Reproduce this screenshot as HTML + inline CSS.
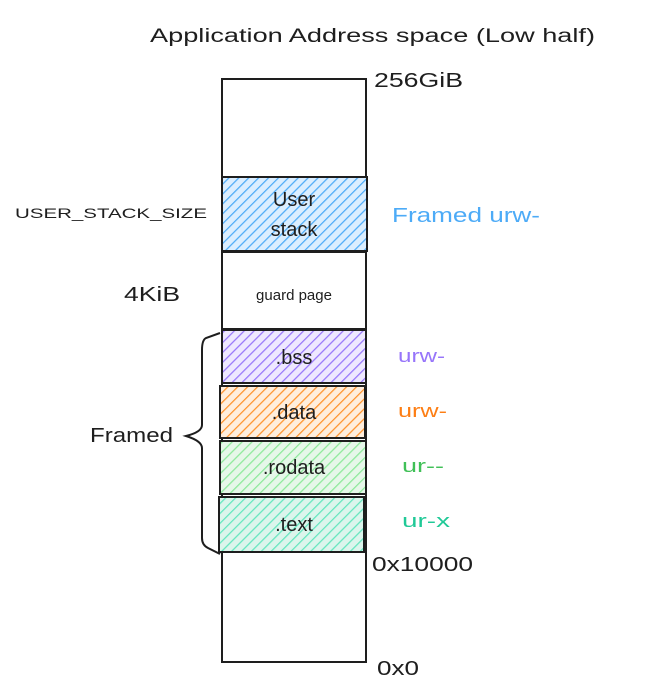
<!DOCTYPE html>
<html><head><style>body{margin:0;background:#fff}svg{display:block}text{font-family:"Liberation Sans",sans-serif}</style></head><body>
<svg width="646" height="692" viewBox="0 0 646 692" xmlns="http://www.w3.org/2000/svg">
<defs>
<pattern id="hb" width="7" height="7" patternUnits="userSpaceOnUse" patternTransform="rotate(45)"><rect width="7" height="7" fill="#dbeeff"/><line x1="0" y1="0" x2="0" y2="7" stroke="#4dabf7" stroke-width="2.5"/></pattern>
<pattern id="hp" width="7" height="7" patternUnits="userSpaceOnUse" patternTransform="rotate(45)"><rect width="7" height="7" fill="#eee8ff"/><line x1="0" y1="0" x2="0" y2="7" stroke="#9775fa" stroke-width="2.5"/></pattern>
<pattern id="ho" width="7" height="7" patternUnits="userSpaceOnUse" patternTransform="rotate(45)"><rect width="7" height="7" fill="#ffeedd"/><line x1="0" y1="0" x2="0" y2="7" stroke="#ff922b" stroke-width="2.5"/></pattern>
<pattern id="hg" width="7" height="7" patternUnits="userSpaceOnUse" patternTransform="rotate(45)"><rect width="7" height="7" fill="#e6f7e9"/><line x1="0" y1="0" x2="0" y2="7" stroke="#8ce99a" stroke-width="2.5"/></pattern>
<pattern id="ht" width="7" height="7" patternUnits="userSpaceOnUse" patternTransform="rotate(45)"><rect width="7" height="7" fill="#dcf5ec"/><line x1="0" y1="0" x2="0" y2="7" stroke="#63e6be" stroke-width="2.5"/></pattern>
</defs>
<text x="150" y="42" font-size="19" fill="#1e1e1e" textLength="445" lengthAdjust="spacingAndGlyphs">Application Address space (Low half)</text>
<rect x="222" y="79" width="144" height="583" fill="#fff" stroke="#1e1e1e" stroke-width="2"/>
<rect x="222" y="177" width="145" height="74" fill="url(#hb)" stroke="#1e1e1e" stroke-width="2"/>
<rect x="222" y="252" width="144" height="77" fill="#fff" stroke="#1e1e1e" stroke-width="2"/>
<rect x="222" y="330" width="144" height="53" fill="url(#hp)" stroke="#1e1e1e" stroke-width="2"/>
<rect x="220" y="386" width="145" height="52" fill="url(#ho)" stroke="#1e1e1e" stroke-width="2"/>
<rect x="220" y="441" width="146" height="53" fill="url(#hg)" stroke="#1e1e1e" stroke-width="2"/>
<rect x="219" y="497" width="145" height="55" fill="url(#ht)" stroke="#1e1e1e" stroke-width="2"/>
<g fill="#1e1e1e" font-size="20" text-anchor="middle">
<text x="294" y="206">User</text><text x="294" y="236">stack</text>
<text x="294" y="300" font-size="15">guard page</text>
<text x="294" y="364">.bss</text>
<text x="294" y="419">.data</text>
<text x="294" y="474">.rodata</text>
<text x="294" y="531">.text</text>
</g>
<g fill="#1e1e1e" font-size="20" lengthAdjust="spacingAndGlyphs">
<text x="374" y="87" textLength="89" lengthAdjust="spacingAndGlyphs">256GiB</text>
<text x="372" y="571" textLength="101" lengthAdjust="spacingAndGlyphs">0x10000</text>
<text x="377" y="675" textLength="42" lengthAdjust="spacingAndGlyphs">0x0</text>
<text x="124" y="301" textLength="56" lengthAdjust="spacingAndGlyphs">4KiB</text>
<text x="90" y="442" textLength="83" lengthAdjust="spacingAndGlyphs">Framed</text>
<text x="15" y="218" font-size="14" textLength="192" lengthAdjust="spacingAndGlyphs">USER_STACK_SIZE</text>
</g>
<text x="392" y="222" font-size="20" fill="#4dabf7" textLength="148" lengthAdjust="spacingAndGlyphs">Framed urw-</text>
<g font-size="18"><text x="398" y="362" fill="#9775fa" textLength="47" lengthAdjust="spacingAndGlyphs">urw-</text>
<text x="398" y="417" fill="#fd7e14" textLength="49" lengthAdjust="spacingAndGlyphs">urw-</text>
<text x="402" y="472" fill="#40c057" textLength="42" lengthAdjust="spacingAndGlyphs">ur--</text>
<text x="402" y="527" fill="#20c997" textLength="48" lengthAdjust="spacingAndGlyphs">ur-x</text></g>
<path d="M220 333 L206 338 Q202 340 202 350 L202 425 Q202 432 186 436 Q202 441 202 448 L202 538 Q202 545 208 548 L220 554" fill="none" stroke="#1e1e1e" stroke-width="2"/>
</svg>
</body></html>
